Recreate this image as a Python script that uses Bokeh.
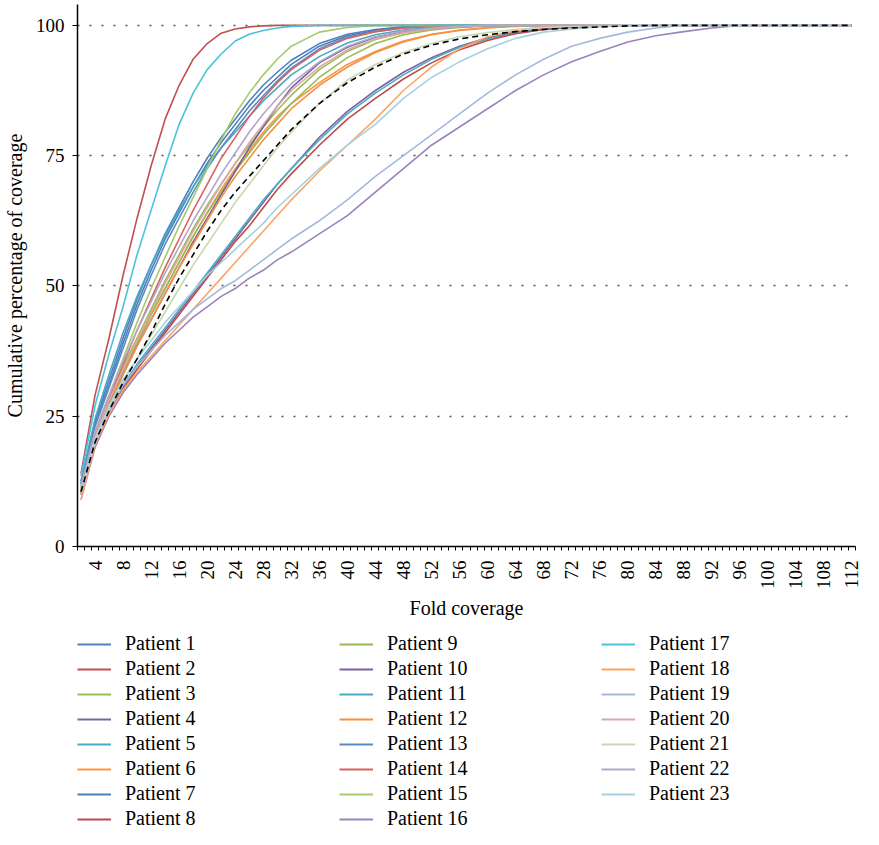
import math
from bokeh.plotting import figure
from bokeh.layouts import column
from bokeh.models import FixedTicker, Legend, LegendItem
from bokeh.embed import file_html
from bokeh.resources import INLINE

# Fold coverage values at which the curves were read
FOLD = [2, 4, 6, 8, 10, 12, 14, 16, 18, 20, 22, 24, 26, 28, 30, 32, 36, 40, 44, 48,
        52, 56, 60, 64, 68, 72, 76, 80, 84, 88, 92, 96, 100, 104, 108, 112]

P1 = [12.5, 24, 32, 40, 47.5, 54, 60, 65, 70, 74.5, 78.5, 82, 85.5, 88.5, 91, 93.3, 96.5, 98.3, 99.2, 99.7,
      100, 100, 100, 100, 100, 100, 100, 100, 100, 100, 100, 100, 100, 100, 100, 100]
P2 = [14, 29, 40, 52, 63, 73, 82, 88.5, 93.5, 96.5, 98.5, 99.3, 99.7, 99.9, 100, 100, 100, 100, 100, 100,
      100, 100, 100, 100, 100, 100, 100, 100, 100, 100, 100, 100, 100, 100, 100, 100]
P3 = [11, 21, 28, 34.5, 40, 45.5, 51, 56, 61, 65.5, 69.5, 73.5, 77, 80.5, 83.7, 86.6, 91.5, 95, 97.3, 98.6,
      99.3, 99.7, 100, 100, 100, 100, 100, 100, 100, 100, 100, 100, 100, 100, 100, 100]
P4 = [10, 19.5, 26, 30.5, 34.5, 38, 41.5, 45, 48.5, 52, 55.5, 59, 62.5, 66, 69.5, 72.5, 78.5, 83.5, 87.5, 91,
      93.8, 96, 97.6, 98.7, 99.4, 99.8, 100, 100, 100, 100, 100, 100, 100, 100, 100, 100]
P5 = [10.5, 20, 26.5, 31, 35, 38.5, 42, 45.5, 49, 52.5, 56, 59.5, 63, 66.5, 69.5, 72.5, 78, 83, 87, 90.5,
      93.5, 95.8, 97.4, 98.5, 99.2, 99.7, 100, 100, 100, 100, 100, 100, 100, 100, 100, 100]
P6 = [10.5, 20.5, 27.5, 33.5, 39, 44.5, 49.5, 54.5, 59.5, 64, 68.5, 72.5, 76, 79.5, 82.5, 85, 89, 92.5, 95, 97,
      98.3, 99.1, 99.6, 99.9, 100, 100, 100, 100, 100, 100, 100, 100, 100, 100, 100, 100]
P7 = [12, 23.5, 31, 39, 46.5, 53, 59, 64, 69, 73.5, 77.5, 81, 84.5, 87.5, 90, 92.5, 96, 98, 99, 99.6,
      99.9, 100, 100, 100, 100, 100, 100, 100, 100, 100, 100, 100, 100, 100, 100, 100]
P8 = [10, 19.5, 25.5, 30, 34, 37.5, 41, 44.5, 48, 51.5, 55, 58.5, 61.5, 65, 68.5, 71.5, 77, 82, 86, 89.7,
      92.8, 95.3, 97.1, 98.4, 99.2, 99.6, 99.9, 100, 100, 100, 100, 100, 100, 100, 100, 100]
P9 = [11, 21, 27.5, 33.5, 39, 44.5, 49.5, 54.5, 59.5, 64, 68, 72, 75.5, 79, 82, 85, 90, 93.8, 96.5, 98.2,
      99.1, 99.6, 99.9, 100, 100, 100, 100, 100, 100, 100, 100, 100, 100, 100, 100, 100]
P10 = [10.5, 20.5, 27, 33, 38.5, 43.5, 48.5, 53.5, 58.5, 63, 67.5, 72, 76.5, 80.5, 84.5, 88, 92.8, 95.8, 97.7, 98.8,
       99.4, 99.7, 100, 100, 100, 100, 100, 100, 100, 100, 100, 100, 100, 100, 100, 100]
P11 = [12.5, 24.5, 33, 41, 48, 54, 59.5, 64.5, 69, 73, 76.5, 79.5, 82.5, 85.5, 88, 90.5, 94, 96.6, 98.2, 99.1,
       99.6, 99.9, 100, 100, 100, 100, 100, 100, 100, 100, 100, 100, 100, 100, 100, 100]
P12 = [10, 20, 27, 33, 38.5, 43.5, 48.5, 53.5, 58, 62.5, 67, 71, 74.5, 78, 81, 84, 88.5, 92, 94.8, 96.8,
       98.2, 99, 99.5, 99.8, 100, 100, 100, 100, 100, 100, 100, 100, 100, 100, 100, 100]
P13 = [12, 23, 30.5, 38, 45.5, 52, 58, 63, 68, 72.5, 76.5, 80, 83.5, 86.5, 89.3, 91.8, 95.5, 97.7, 98.8, 99.5,
       99.8, 100, 100, 100, 100, 100, 100, 100, 100, 100, 100, 100, 100, 100, 100, 100]
P14 = [11, 21.5, 28.5, 35, 41.5, 47.5, 53.5, 59, 64.5, 69.5, 74.5, 78.5, 82.5, 86, 89, 91.5, 95.2, 97.5, 98.8, 99.5,
       99.8, 100, 100, 100, 100, 100, 100, 100, 100, 100, 100, 100, 100, 100, 100, 100]
P15 = [11.5, 22, 29, 36, 43, 49.5, 55.5, 61.5, 67, 72.5, 78, 83, 87, 90.5, 93.5, 96, 98.7, 99.6, 100, 100,
       100, 100, 100, 100, 100, 100, 100, 100, 100, 100, 100, 100, 100, 100, 100, 100]
P16 = [9, 19, 25, 29.5, 33, 36, 39, 41.5, 44, 46, 48, 49.5, 51.5, 53, 55, 56.5, 60, 63.5, 68, 72.5,
       77, 80.5, 84, 87.5, 90.5, 93, 95, 96.8, 98, 98.8, 99.5, 100, 100, 100, 100, 100]
P17 = [13.5, 27, 37, 46, 56, 64.5, 73, 81, 87, 91.5, 94.5, 97, 98.3, 99, 99.5, 99.8, 100, 100, 100, 100,
       100, 100, 100, 100, 100, 100, 100, 100, 100, 100, 100, 100, 100, 100, 100, 100]
P18 = [9, 19.5, 25.5, 30, 33.5, 36.5, 39.5, 42.5, 45.5, 48.5, 51.5, 54.5, 57.5, 60.5, 63.5, 66.5, 72, 77, 82, 87.5,
       92, 95.5, 97.8, 99, 99.7, 100, 100, 100, 100, 100, 100, 100, 100, 100, 100, 100]
P19 = [10, 20, 26, 31, 34.5, 37.5, 40.5, 43, 45.5, 47.5, 49.5, 51, 53, 55, 57, 59, 62.5, 66.5, 71, 75,
       79, 83, 87, 90.5, 93.5, 96, 97.5, 98.7, 99.5, 100, 100, 100, 100, 100, 100, 100]
P20 = [11, 21, 28, 34, 39.5, 45, 50.5, 55.5, 60.5, 65, 69.5, 73.5, 77.5, 81, 84.5, 87.5, 92, 95.3, 97.4, 98.6,
       99.3, 99.7, 100, 100, 100, 100, 100, 100, 100, 100, 100, 100, 100, 100, 100, 100]
P21 = [11, 20.5, 26.5, 31.5, 36, 40.5, 45, 49.5, 54, 58, 62, 66, 69.5, 73, 76.5, 79.5, 85, 89.5, 92.5, 94.8,
       96.5, 97.8, 98.6, 99.2, 99.6, 99.8, 100, 100, 100, 100, 100, 100, 100, 100, 100, 100]
P22 = [11.5, 22, 29, 35.5, 41.5, 47, 52.5, 57.5, 62.5, 67, 71.5, 75.5, 79.5, 83, 86, 88.8, 93, 96, 97.8, 98.9,
       99.5, 99.8, 100, 100, 100, 100, 100, 100, 100, 100, 100, 100, 100, 100, 100, 100]
P23 = [10.5, 20.5, 27, 32, 36, 39.5, 43, 46, 49, 52, 54.5, 57, 59.5, 62, 65, 67.5, 72.5, 77, 81, 86,
       90, 93, 95.5, 97.5, 98.7, 99.3, 99.7, 100, 100, 100, 100, 100, 100, 100, 100, 100]
MEAN = [10.5, 20, 26, 31.5, 36, 41, 46.5, 51.5, 56, 60.5, 64.5, 68, 71, 74, 77, 80, 85, 89, 92, 94.5,
        96.2, 97.4, 98.2, 98.8, 99.2, 99.5, 99.7, 99.9, 100, 100, 100, 100, 100, 100, 100, 100]

SERIES = [P1, P2, P3, P4, P5, P6, P7, P8, P9, P10, P11, P12, P13, P14, P15, P16,
          P17, P18, P19, P20, P21, P22, P23]
NAMES = ["Patient %d" % (i + 1) for i in range(len(SERIES))]
COLORS = ["#4F81BD", "#C0504D", "#9BBB59", "#8064A2", "#4BACC6", "#F79646",
          "#4A7EBB", "#BE4B48", "#98B954", "#7D60A0", "#46AAC5", "#F69240",
          "#5A8AC6", "#D9625F", "#A6C96A", "#9983BE", "#4BC1DC", "#FDA460",
          "#A4B9DD", "#DDA7A6", "#C9D8AF", "#B3A6CC", "#A6D1E1"]
Y_TICKS = [0, 25, 50, 75, 100]
X_LABEL_TICKS = list(range(4, 113, 4))

FONT = "Liberation Serif"

p = figure(width=863, height=622, output_backend="svg", toolbar_location=None,
           x_range=(1.5, 112.5), y_range=(0, 104),
           min_border_left=71, min_border_right=8, min_border_top=4, min_border_bottom=75,
           background_fill_color="white", border_fill_color="white")
p.outline_line_color = None

for ys, c in zip(SERIES, COLORS):
    p.line(FOLD, ys, line_color=c, line_width=1.6)
p.line(FOLD, MEAN, line_color="black", line_width=1.6, line_dash="6 4")

# grid
p.xgrid.visible = False
p.ygrid.ticker = FixedTicker(ticks=[25, 50, 75, 100])
p.ygrid.grid_line_color = "#555555"
p.ygrid.grid_line_dash = "2 10"
p.ygrid.grid_line_width = 1.5

# y axis
ya = p.yaxis[0]
ya.ticker = FixedTicker(ticks=Y_TICKS)
ya.axis_label = "Cumulative percentage of coverage"
ya.axis_label_text_font = FONT
ya.axis_label_text_font_size = "20px"
ya.axis_label_text_font_style = "normal"
ya.axis_label_text_color = "black"
ya.axis_label_standoff = 7
ya.major_label_text_font = FONT
ya.major_label_text_font_size = "19px"
ya.major_label_text_color = "black"
ya.major_label_standoff = 8
ya.axis_line_color = "black"
ya.axis_line_width = 1.5
ya.major_tick_line_color = "black"
ya.major_tick_out = 5
ya.major_tick_in = 0
ya.minor_tick_line_color = None

# x axis
xa = p.xaxis[0]
xa.ticker = FixedTicker(ticks=X_LABEL_TICKS, minor_ticks=[i + 0.5 for i in range(1, 113)])
xa.axis_label = "Fold coverage"
xa.axis_label_text_font = FONT
xa.axis_label_text_font_size = "20px"
xa.axis_label_text_font_style = "normal"
xa.axis_label_text_color = "black"
xa.axis_label_standoff = 5
xa.major_label_text_font = FONT
xa.major_label_text_font_size = "19px"
xa.major_label_text_color = "black"
xa.major_label_orientation = math.pi / 2
xa.major_label_standoff = 10
xa.axis_line_color = "black"
xa.axis_line_width = 1.5
xa.major_tick_out = 0
xa.major_tick_in = 0
xa.minor_tick_line_color = "black"
xa.minor_tick_out = 4
xa.minor_tick_in = 0

# legend in its own panel below the chart; its key lines hold the same data,
# which lies outside this panel's ranges, so only the legend shows
lg = figure(width=863, height=207, output_backend="svg", toolbar_location=None,
            x_range=(-20, -10), y_range=(-20, -10), x_axis_location=None, y_axis_location=None,
            min_border_left=74, min_border_right=0, min_border_top=10, min_border_bottom=0,
            background_fill_color="white", border_fill_color="white")
lg.outline_line_color = None
lg.xgrid.visible = False
lg.ygrid.visible = False
keys = []
for ys, c in zip(SERIES, COLORS):
    keys.append(lg.line(FOLD, ys, line_color=c, line_width=2.2))

items = [LegendItem(label=n, renderers=[r]) for n, r in zip(NAMES, keys)]
leg = Legend(items=items, location="top_left", orientation="vertical", ncols=3,
             glyph_width=34, glyph_height=20, label_standoff=14, label_width=212,
             label_height=20, spacing=2, padding=0, margin=0, border_line_color=None,
             background_fill_alpha=0, label_text_font=FONT, label_text_font_size="20px",
             label_text_color="black")
lg.add_layout(leg)

layout = column(p, lg, spacing=0)
open("out.html", "w").write(file_html(layout, INLINE))
